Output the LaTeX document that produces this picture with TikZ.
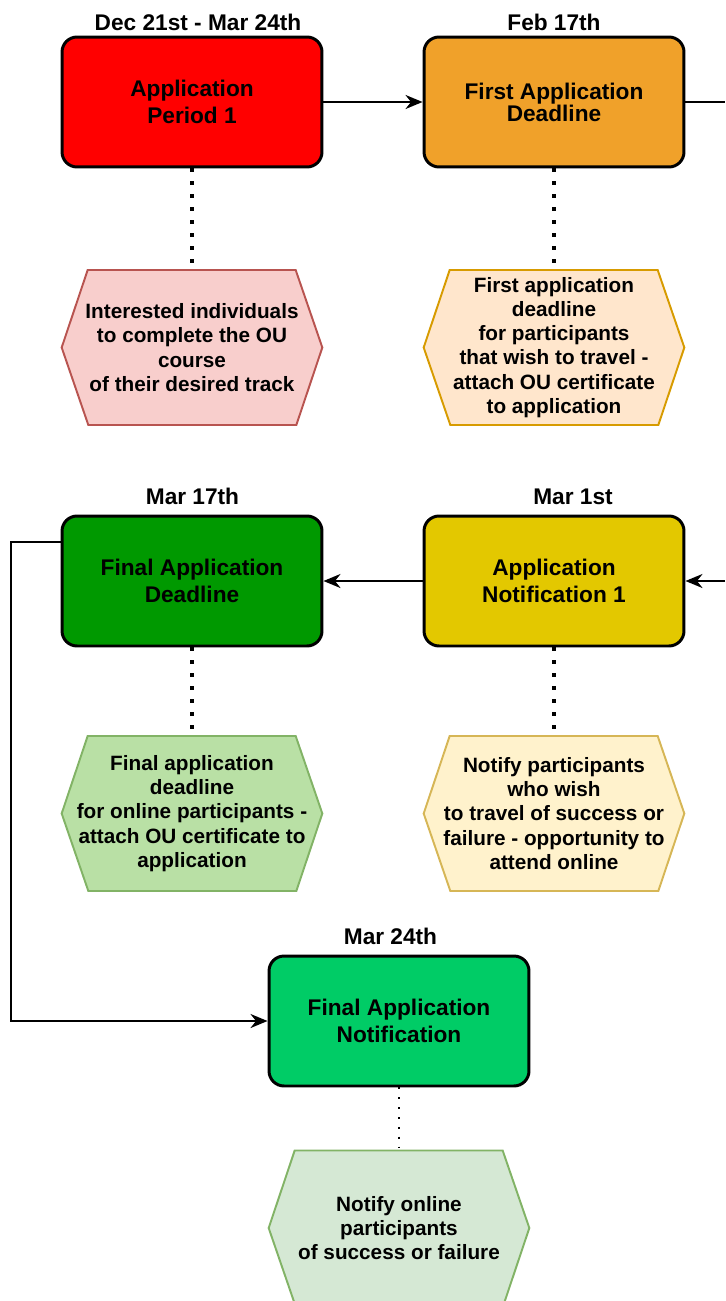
\documentclass[tikz,border=0pt]{standalone}
\usepackage{fontspec}
\setmainfont{Liberation Sans}
\usetikzlibrary{arrows.meta}
\usetikzlibrary{backgrounds}

% stage colours
\definecolor{periodred}{RGB}{255,0,0}
\definecolor{firstorange}{RGB}{240,161,42}
\definecolor{notifyyellow}{RGB}{227,200,0}
\definecolor{finalgreen}{RGB}{0,153,0}
\definecolor{resultgreen}{RGB}{0,204,102}
% note colours
\definecolor{redfill}{HTML}{F8CECC}\definecolor{redline}{HTML}{B85450}
\definecolor{orangefill}{HTML}{FFE6CC}\definecolor{orangeline}{HTML}{D79B00}
\definecolor{limefill}{HTML}{B9E0A5}\definecolor{limeline}{HTML}{82B366}
\definecolor{yellowfill}{HTML}{FFF2CC}\definecolor{yellowline}{HTML}{D6B656}
\definecolor{palefill}{HTML}{D5E8D4}\definecolor{paleline}{HTML}{82B366}

\newcommand{\stagefont}{\fontsize{12.9}{15.4}\selectfont\bfseries}
\newcommand{\notefont}{\fontsize{11.8}{13.8}\selectfont\bfseries}

% hexagon drawn behind a note node
\newcommand{\hexframe}[3]{%
  \begin{scope}[on background layer]
    \draw[hexline, draw=#2, fill=#3] (#1.west) -- ++(26,-77.5) -- ++(208,0)
      -- (#1.east) -- ++(-26,77.5) -- ++(-208,0) -- cycle;
  \end{scope}}

\tikzset{
  stage/.style={draw=black, line width=1.7pt, rounded corners=0.3cm,
    minimum width=5.2cm, minimum height=2.6cm, align=center, font=\stagefont},
  datelbl/.style={anchor=base, font=\stagefont},
  note/.style={minimum width=5.2cm, minimum height=3.1cm, inner sep=0pt,
    align=center, font=\notefont},
  hexline/.style={line width=1.1pt},
  flow/.style={line width=1.3pt, -{Stealth[length=0.34cm, width=0.28cm, inset=0.11cm]}},
  link/.style={line width=1.3pt},
  dotlink/.style={line width=2pt, dash pattern=on 2pt off 5.4pt},
  finedots/.style={line width=1.1pt, dash pattern=on 1.1pt off 4.5pt},
}

\begin{document}
\begin{tikzpicture}[x=0.02cm, y=-0.02cm]
    \useasboundingbox (0,0) rectangle (725,1301);

    % dates
    \node[datelbl] (dateA) at (198,30.7) {Dec 21st - Mar 24th};
    \node[datelbl] (dateB) at (554,30.7) {Feb 17th};
    \node[datelbl] (dateC) at (192.5,504) {Mar 17th};
    \node[datelbl] (dateD) at (573,504) {Mar 1st};
    \node[datelbl] (dateE) at (390.5,944) {Mar 24th};

    % stages
    \node[stage, fill=periodred] (A) at (192,102) {Application\\Period 1};
    \node[stage, fill=firstorange, font=\fontsize{12.9}{12.5}\selectfont\bfseries] (B) at (554,102) {First Application\\Deadline};
    \node[stage, fill=finalgreen] (C) at (192,581) {Final Application\\Deadline};
    \node[stage, fill=notifyyellow] (D) at (554,581) {Application\\Notification 1};
    \node[stage, fill=resultgreen] (E) at (399,1021) {Final Application\\Notification};

    % notes
    \node[note] (hexA) at (192,347.5) {Interested individuals\\to complete the OU\\course\\of their desired track};
    \node[note] (hexB) at (554,347.5) {First application\\deadline\\for participants\\that wish to travel -\\attach OU certificate\\to application};
    \node[note] (hexC) at (192,813.5) {Final application\\deadline\\for online participants -\\attach OU certificate to\\application};
    \node[note] (hexD) at (554,813.5) {Notify participants\\who wish\\to travel of success or\\failure - opportunity to\\attend online};
    \node[note] (hexE) at (399,1228) {Notify online\\participants\\of success or failure};
    \hexframe{hexA}{redline}{redfill}
    \hexframe{hexB}{orangeline}{orangefill}
    \hexframe{hexC}{limeline}{limefill}
    \hexframe{hexD}{yellowline}{yellowfill}
    \hexframe{hexE}{paleline}{palefill}

    % timeline
    \coordinate (outR) at (725,102);
    \coordinate (inR) at (725,581);
    \coordinate (bend) at (11,542);
    \draw[flow] (A.east) -- (B.west);
    \draw[link] (B.east) -- (outR);
    \draw[flow] (inR) -- (D.east);
    \draw[flow] (D.west) -- (C.east);
    \draw[flow] (C.west |- bend) -- (bend) |- (E.west);

    % dotted ties
    \draw[dotlink] (A.south) -- (hexA.north);
    \draw[dotlink] (B.south) -- (hexB.north);
    \draw[dotlink] (C.south) -- (hexC.north);
    \draw[dotlink] (D.south) -- (hexD.north);
    \draw[finedots] (E.south) -- (hexE.north);
\end{tikzpicture}
\end{document}
